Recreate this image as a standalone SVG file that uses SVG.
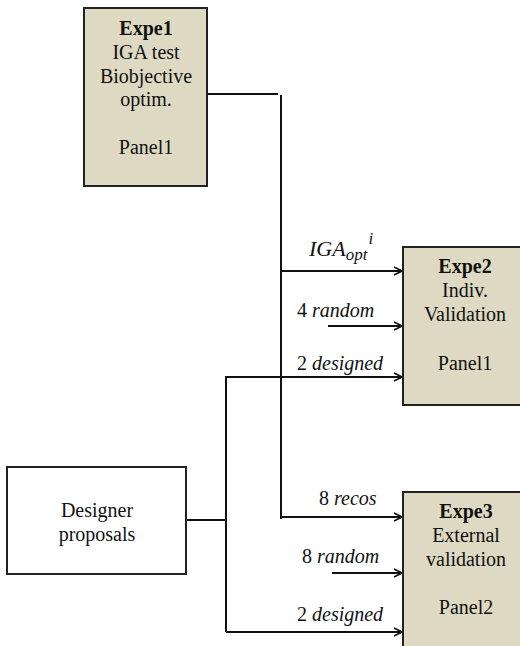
<svg xmlns="http://www.w3.org/2000/svg" width="520" height="646" viewBox="0 0 520 646">
<defs>
<style>
.box{fill:#DDD9C3;stroke:#222;stroke-width:2}
.wbox{fill:#fff;stroke:#222;stroke-width:2}
text{font-family:"Liberation Serif","DejaVu Serif",serif;font-size:20px;fill:#111}
.t{text-anchor:middle}
.b{font-weight:bold}
.i{font-style:italic}
.c{fill:none;stroke:#111;stroke-width:2}
</style>
<marker id="arr" viewBox="0 0 10 10" refX="9" refY="5" markerWidth="10" markerHeight="10" markerUnits="userSpaceOnUse" orient="auto">
<path d="M1,1 L9,5 L1,9" fill="none" stroke="#111" stroke-width="1.6"/>
</marker>
</defs>
<rect width="520" height="646" fill="#fff"/>
<g id="connectors">
<path class="c" d="M207,94 H278"/>
<path class="c" d="M281,95 V519"/>
<path class="c" d="M281,271 H402" marker-end="url(#arr)"/>
<path class="c" d="M328,326 H402" marker-end="url(#arr)"/>
<path class="c" d="M226,377 H402" marker-end="url(#arr)"/>
<path class="c" d="M186,520 H226"/>
<path class="c" d="M226,376 V632"/>
<path class="c" d="M281,517 H402" marker-end="url(#arr)"/>
<path class="c" d="M332,573 H402" marker-end="url(#arr)"/>
<path class="c" d="M226,632 H402" marker-end="url(#arr)"/>
<text x="309" y="256"><tspan class="i" font-size="22">IGA</tspan><tspan class="i" font-size="17" dy="4">opt</tspan><tspan class="i" font-size="17" dx="1" dy="-16">i</tspan></text>
<text x="297" y="317">4 <tspan class="i">random</tspan></text>
<text x="297" y="370">2 <tspan class="i">designed</tspan></text>
<text x="319" y="505">8 <tspan class="i">recos</tspan></text>
<text x="302" y="563">8 <tspan class="i">random</tspan></text>
<text x="297" y="621">2 <tspan class="i">designed</tspan></text>
</g>
<g id="expe1">
<rect class="box" x="84" y="8" width="123" height="178"/>
<text class="t b" x="146" y="35">Expe1</text>
<text class="t" x="146" y="59">IGA test</text>
<text class="t" x="146" y="83">Biobjective</text>
<text class="t" x="146" y="106">optim.</text>
<text class="t" x="146" y="154">Panel1</text>
</g>
<g id="expe2">
<rect class="box" x="403" y="247" width="126" height="158"/>
<text class="t b" x="465" y="273">Expe2</text>
<text class="t" x="465" y="297">Indiv.</text>
<text class="t" x="465" y="321">Validation</text>
<text class="t" x="465" y="370">Panel1</text>
</g>
<g id="expe3">
<rect class="box" x="403" y="492" width="126" height="170"/>
<text class="t b" x="466" y="518">Expe3</text>
<text class="t" x="466" y="542">External</text>
<text class="t" x="466" y="566">validation</text>
<text class="t" x="466" y="614">Panel2</text>
</g>
<g id="designer">
<rect class="wbox" x="7" y="467" width="179" height="107"/>
<text class="t" x="97" y="517">Designer</text>
<text class="t" x="97" y="541">proposals</text>
</g>
</svg>
